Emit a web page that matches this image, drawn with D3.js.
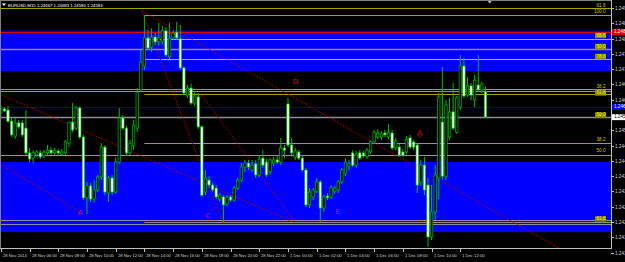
<!DOCTYPE html>
<html>
<head>
<meta charset="utf-8">
<script src="https://cdn.jsdelivr.net/npm/d3@7"></script>
<style>
  body { margin: 0; background: #000; }
  svg { display: block; }
  text { font-family: "Liberation Sans", Arial, sans-serif; }
</style>
</head>
<body>
<div id="chart"></div>
<script>
// EURUSD M15, 28 Nov 2014 04:00 .. 1 Dec 2014 13:45
var opens = [
  1.24596,1.24610,1.24606,1.24570,1.24521,1.24564,1.24564,1.24547,1.24466,1.24449,
  1.24459,1.24466,1.24456,1.24466,1.24475,1.24466,1.24472,1.24462,1.24466,1.24498,
  1.24567,1.24547,1.24613,1.24518,1.24319,1.24358,1.24315,1.24345,1.24387,1.24485,
  1.24335,1.24384,1.24338,1.24436,1.24580,1.24547,1.24466,1.24489,1.24547,1.24672,
  1.24750,1.24842,1.24812,1.24845,1.24829,1.24829,1.24865,1.24780,1.24842,1.24861,
  1.24839,1.24744,1.24655,1.24678,1.24629,1.24649,1.24551,1.24338,1.24377,1.24361,
  1.24351,1.24315,1.24322,1.24299,1.24322,1.24312,1.24351,1.24377,1.24420,1.24433,
  1.24410,1.24430,1.24394,1.24449,1.24436,1.24404,1.24433,1.24443,1.24436,1.24482,
  1.24626,1.24492,1.24453,1.24469,1.24449,1.24410,1.24296,1.24322,1.24341,1.24371,
  1.24286,1.24325,1.24322,1.24341,1.24345,1.24371,1.24400,1.24423,1.24466,1.24426,
  1.24466,1.24466,1.24453,1.24469,1.24502,1.24518,1.24518,1.24531,1.24518,1.24531,
  1.24482,1.24485,1.24469,1.24469,1.24515,1.24502,1.24492,1.24371,1.24426,1.24361,
  1.24191,1.24273,1.24384,1.24567,1.24390,1.24518,1.24600,1.24534,1.24616,1.24750,
  1.24655,1.24685,1.24639,1.24688,1.24672,1.24667];
var highs = [
  1.24623,1.24616,1.24619,1.24580,1.24580,1.24574,1.24574,1.24606,1.24482,1.24475,
  1.24475,1.24475,1.24475,1.24492,1.24485,1.24482,1.24479,1.24479,1.24508,1.24557,
  1.24629,1.24619,1.24619,1.24525,1.24371,1.24368,1.24377,1.24394,1.24498,1.24492,
  1.24390,1.24394,1.24449,1.24613,1.24590,1.24554,1.24508,1.24574,1.24678,1.24802,
  1.24917,1.24868,1.24874,1.24858,1.24891,1.24881,1.24878,1.24891,1.24868,1.24894,
  1.24884,1.24750,1.24688,1.24691,1.24665,1.24662,1.24557,1.24410,1.24390,1.24368,
  1.24361,1.24335,1.24328,1.24328,1.24328,1.24358,1.24384,1.24433,1.24443,1.24443,
  1.24443,1.24443,1.24459,1.24475,1.24446,1.24449,1.24453,1.24456,1.24515,1.24492,
  1.24646,1.24515,1.24482,1.24475,1.24459,1.24417,1.24351,1.24351,1.24384,1.24377,
  1.24328,1.24335,1.24361,1.24358,1.24377,1.24417,1.24449,1.24443,1.24475,1.24472,
  1.24475,1.24472,1.24482,1.24508,1.24541,1.24544,1.24538,1.24541,1.24561,1.24541,
  1.24515,1.24495,1.24479,1.24521,1.24525,1.24508,1.24498,1.24443,1.24453,1.24384,
  1.24361,1.24426,1.24662,1.24747,1.24639,1.24646,1.24695,1.24652,1.24786,1.24776,
  1.24714,1.24695,1.24721,1.24786,1.24698,1.24683];
var lows = [
  1.24587,1.24600,1.24564,1.24518,1.24511,1.24544,1.24518,1.24459,1.24436,1.24433,
  1.24453,1.24446,1.24449,1.24459,1.24459,1.24459,1.24456,1.24456,1.24459,1.24485,
  1.24534,1.24541,1.24511,1.24312,1.24266,1.24306,1.24302,1.24338,1.24377,1.24328,
  1.24306,1.24328,1.24332,1.24430,1.24541,1.24456,1.24459,1.24475,1.24534,1.24665,
  1.24737,1.24802,1.24796,1.24819,1.24816,1.24819,1.24780,1.24773,1.24835,1.24835,
  1.24737,1.24655,1.24646,1.24623,1.24619,1.24544,1.24322,1.24328,1.24351,1.24338,
  1.24315,1.24306,1.24237,1.24292,1.24306,1.24306,1.24345,1.24371,1.24404,1.24410,
  1.24404,1.24384,1.24387,1.24417,1.24387,1.24394,1.24423,1.24430,1.24426,1.24449,
  1.24485,1.24459,1.24443,1.24443,1.24404,1.24289,1.24286,1.24312,1.24335,1.24240,
  1.24273,1.24312,1.24315,1.24332,1.24335,1.24364,1.24390,1.24410,1.24420,1.24417,
  1.24443,1.24449,1.24446,1.24462,1.24495,1.24511,1.24508,1.24518,1.24511,1.24475,
  1.24475,1.24453,1.24453,1.24462,1.24479,1.24475,1.24335,1.24358,1.24328,1.24158,
  1.24181,1.24247,1.24315,1.24377,1.24377,1.24508,1.24541,1.24528,1.24606,1.24646,
  1.24649,1.24639,1.24616,1.24665,1.24662,1.24580];
var closes = [
  1.24610,1.24603,1.24570,1.24525,1.24564,1.24551,1.24525,1.24466,1.24446,1.24466,
  1.24469,1.24453,1.24469,1.24475,1.24466,1.24475,1.24466,1.24469,1.24502,1.24567,
  1.24541,1.24613,1.24518,1.24319,1.24358,1.24315,1.24345,1.24387,1.24485,1.24338,
  1.24384,1.24338,1.24436,1.24580,1.24547,1.24466,1.24498,1.24557,1.24665,1.24763,
  1.24842,1.24809,1.24845,1.24829,1.24842,1.24865,1.24786,1.24842,1.24858,1.24842,
  1.24744,1.24662,1.24678,1.24629,1.24652,1.24551,1.24328,1.24384,1.24361,1.24345,
  1.24322,1.24328,1.24296,1.24319,1.24312,1.24351,1.24377,1.24420,1.24433,1.24420,
  1.24426,1.24394,1.24446,1.24426,1.24394,1.24443,1.24443,1.24436,1.24482,1.24475,
  1.24492,1.24466,1.24472,1.24449,1.24410,1.24296,1.24338,1.24345,1.24371,1.24286,
  1.24322,1.24319,1.24351,1.24351,1.24371,1.24410,1.24436,1.24430,1.24426,1.24462,
  1.24449,1.24456,1.24475,1.24502,1.24534,1.24531,1.24528,1.24525,1.24534,1.24482,
  1.24505,1.24459,1.24459,1.24511,1.24485,1.24485,1.24361,1.24426,1.24345,1.24191,
  1.24273,1.24394,1.24649,1.24390,1.24623,1.24600,1.24547,1.24646,1.24750,1.24652,
  1.24685,1.24655,1.24704,1.24672,1.24691,1.24583];

// one label every 8 bars (2 hours)
var timeLabels = ["28 Nov 2014","28 Nov 06:00","28 Nov 08:00","28 Nov 10:00","28 Nov 12:00",
  "28 Nov 14:00","28 Nov 16:00","28 Nov 18:00","28 Nov 20:00","28 Nov 22:00","1 Dec 00:00",
  "1 Dec 02:00","1 Dec 04:00","1 Dec 06:00","1 Dec 08:00","1 Dec 10:00","1 Dec 12:00"];
var priceTicks = [1.24940,1.24890,1.24840,1.24790,1.24740,1.24690,1.24640,1.24540,1.24490,
  1.24440,1.24390,1.24340,1.24290,1.24240,1.24190,1.24140];

// drawn objects
var blueZones = [[1.24866, 1.24734], [1.24436, 1.24207]];
var oliveLines = [1.24940, 1.24675, 1.24668, 1.24459];        // whole width
var fiboLines = [1.24917, 1.24659, 1.24498];                  // from the high bar
var silverLines = [1.24838, 1.24773];                         // from the high bar
var grayLines = [1.24806, 1.24582, 1.24245, 1.24235];
var grayFiboLine = 1.24240;
var fiboStartBar = 40;
var redLine = 1.24861;
var navyLine = 1.24616;
var fiboText = ["61.8","100.0","88.6","50.0","78.6","38.2","61.8","50.0","38.2","50.0","61.8"];
var fiboTextPrice = [1.24946,1.24926,1.24850,1.24814,1.24781,1.24682,1.24662,1.24590,1.24510,1.24474,1.24250];
var fiboBoxed = [false,false,true,true,true,false,true,true,false,false,true];
// trend lines: [bar, price, bar, price]
var trendLines = [
  [0.3, 1.24655, 82, 1.24237],
  [39.3, 1.24930, 62, 1.24233],
  [39.3, 1.24930, 156.3, 1.24149],
  [56, 1.24655, 82, 1.24240],
  [0.3, 1.24426, 22, 1.24273]
];
var waveNames = ["A","C","D","E"];
var waveBars = [22.1, 57.7, 82, 93.9];
var wavePrices = [1.24269, 1.24260, 1.24698, 1.24273];
var arrowBar = 116.8, arrowPrice = 1.24525;

var W = 625, H = 262, plotR = 611, plotB = 248;

var svg = d3.select("#chart").append("svg")
    .attr("width", W).attr("height", H)
    .style("background", "#000");

var x = d3.scaleLinear().domain([0, 170]).range([0.8, 611.1]);
var y = d3.scaleLinear().domain([1.24966, 1.24109]).range([0, 262.08]);

svg.append("clipPath").attr("id", "plot")
  .append("rect").attr("x", 1).attr("y", 1).attr("width", plotR - 1).attr("height", plotB - 1);

var g = svg.append("g").attr("clip-path", "url(#plot)");

// blue zones
g.selectAll(".zone").data(blueZones).enter().append("rect")
  .attr("x", 0).attr("width", plotR)
  .attr("y", function (d) { return y(d[0]); })
  .attr("height", function (d) { return y(d[1]) - y(d[0]); })
  .attr("fill", "#0000ff");

function hline(p, x0, color, w) {
  g.append("line")
    .attr("x1", x0).attr("x2", plotR)
    .attr("y1", Math.round(y(p)) + 0.5).attr("y2", Math.round(y(p)) + 0.5)
    .attr("stroke", color).attr("stroke-width", w);
}
oliveLines.forEach(function (p) { hline(p, 0, "#a6a600", 1); });
fiboLines.forEach(function (p) { hline(p, x(fiboStartBar), "#a6a600", 1); });
silverLines.forEach(function (p) { hline(p, x(fiboStartBar), "#a8a8d0", 1); });
grayLines.forEach(function (p, i) { hline(p, 0, "#8c8c9c", i < 2 ? 1.6 : 1); });
hline(grayFiboLine, x(fiboStartBar), "#8c8c9c", 1);
hline(navyLine, 0, "#0000a0", 1);
hline(redLine, 0, "#e00000", 1);

// trend lines
g.selectAll(".trend").data(trendLines).enter().append("line")
  .attr("x1", function (d) { return x(d[0]); })
  .attr("y1", function (d) { return y(d[1]); })
  .attr("x2", function (d) { return x(d[2]); })
  .attr("y2", function (d) { return y(d[3]); })
  .attr("stroke", "#c00000").attr("stroke-width", 1)
  .attr("stroke-dasharray", "1.5,1.5");

// candles
var idx = d3.range(opens.length);
var candle = g.selectAll(".candle").data(idx).enter().append("g");
candle.append("line")
  .attr("x1", function (i) { return x(i); }).attr("x2", function (i) { return x(i); })
  .attr("y1", function (i) { return y(highs[i]); })
  .attr("y2", function (i) { return y(lows[i]); })
  .attr("stroke", "#00c000").attr("stroke-width", 1);
candle.append("rect")
  .attr("x", function (i) { return x(i) - 1.2; })
  .attr("width", 2.4)
  .attr("y", function (i) { return y(Math.max(opens[i], closes[i])); })
  .attr("height", function (i) { return Math.max(0.8, Math.abs(y(opens[i]) - y(closes[i]))); })
  .attr("fill", function (i) { return closes[i] < opens[i] ? "#ffffff" : "#000000"; })
  .attr("stroke", "#00c000").attr("stroke-width", 0.7);

// wave labels
g.selectAll(".wave").data(waveNames).enter().append("text")
  .attr("x", function (d, i) { return x(waveBars[i]); })
  .attr("y", function (d, i) { return y(wavePrices[i]); })
  .attr("text-anchor", "middle").attr("dominant-baseline", "middle")
  .attr("font-size", 7).attr("fill", function (d) { return d == "D" ? "#ff0000" : "#e0104a"; })
  .text(function (d) { return d; });

// arrow
var ax = x(arrowBar), ay = y(arrowPrice);
g.append("path")
  .attr("d", "M" + (ax - 1) + "," + (ay - 4) + "h2v3h1.5l-2.5,3l-2.5,-3h1.5z")
  .attr("fill", "none").attr("stroke", "#e00000").attr("stroke-width", 0.8);

// fibo level captions
var fibIdx = d3.range(fiboText.length);
g.selectAll(".fibobox").data(fibIdx.filter(function (i) { return fiboBoxed[i]; })).enter().append("rect")
  .attr("x", function (i) { return 605 - fiboText[i].length * 2.5; })
  .attr("y", function (i) { return y(fiboTextPrice[i]) - 2.7; })
  .attr("width", function (i) { return fiboText[i].length * 2.5 + 1; })
  .attr("height", 5.4)
  .attr("fill", "#8c8c00");
g.selectAll(".fibotext").data(fibIdx).enter().append("text")
  .attr("x", 605.5).attr("y", function (i) { return y(fiboTextPrice[i]); })
  .attr("text-anchor", "end").attr("dominant-baseline", "middle")
  .attr("font-size", 4.6)
  .attr("fill", function (i) { return fiboBoxed[i] ? "#f0f000" : "#c8c800"; })
  .text(function (i) { return fiboText[i]; });

// frame
svg.append("line").attr("x1", 0).attr("x2", plotR).attr("y1", 0.5).attr("y2", 0.5).attr("stroke", "#808080");
svg.append("line").attr("x1", 0.5).attr("x2", 0.5).attr("y1", 0).attr("y2", plotB).attr("stroke", "#808080");
svg.append("line").attr("x1", plotR + 0.5).attr("x2", plotR + 0.5).attr("y1", 0).attr("y2", plotB + 1).attr("stroke", "#c0c0c0");
svg.append("line").attr("x1", 0).attr("x2", plotR + 1).attr("y1", plotB + 0.5).attr("y2", plotB + 0.5).attr("stroke", "#c0c0c0");

// price axis
var pAxis = svg.append("g");
priceTicks.forEach(function (p) {
  var yy = Math.round(y(p)) + 0.5;
  pAxis.append("line").attr("x1", plotR).attr("x2", plotR + 3).attr("y1", yy).attr("y2", yy).attr("stroke", "#c0c0c0");
  pAxis.append("text").attr("x", plotR + 4).attr("y", yy).attr("dominant-baseline", "middle")
    .attr("font-size", 4.6).attr("fill", "#d0d0d0").text(p.toFixed(5));
});
function priceBox(p, bg, fg) {
  var yy = y(p);
  pAxis.append("rect").attr("x", plotR + 1).attr("y", yy - 3).attr("width", 14).attr("height", 6).attr("fill", bg);
  pAxis.append("text").attr("x", plotR + 3).attr("y", yy).attr("dominant-baseline", "middle")
    .attr("font-size", 4.6).attr("fill", fg).text(p.toFixed(5));
}
priceBox(redLine, "#e00000", "#ffffff");
priceBox(navyLine, "#0000ff", "#ffffff");
priceBox(closes[closes.length - 1], "#ffffff", "#000000");

// time axis
var tAxis = svg.append("g");
timeLabels.forEach(function (t, k) {
  var xx = Math.round(x(k * 8)) + 0.5;
  tAxis.append("line").attr("x1", xx).attr("x2", xx).attr("y1", plotB).attr("y2", plotB + 4).attr("stroke", "#c0c0c0");
  tAxis.append("text").attr("x", xx + 1.5).attr("y", plotB + 7.5).attr("dominant-baseline", "middle")
    .attr("font-size", 4.2).attr("fill", "#d0d0d0").text(t);
});

// chart shift marker
svg.append("path").attr("d", "M" + (x(136.2) - 2) + ",1h4l-2,2.5z").attr("fill", "#c0c0c0");

// title
var last = opens.length - 1;
svg.append("path").attr("d", "M2,3.5h4l-2,2.5z").attr("fill", "#ffffff");
svg.append("text").attr("x", 8).attr("y", 5.5).attr("dominant-baseline", "middle")
  .attr("font-size", 4.3).attr("fill", "#ffffff")
  .text("EURUSD,M15 " + [opens[last], highs[last], lows[last], closes[last]].map(function (v) { return v.toFixed(5); }).join(" "));
</script>
</body>
</html>
